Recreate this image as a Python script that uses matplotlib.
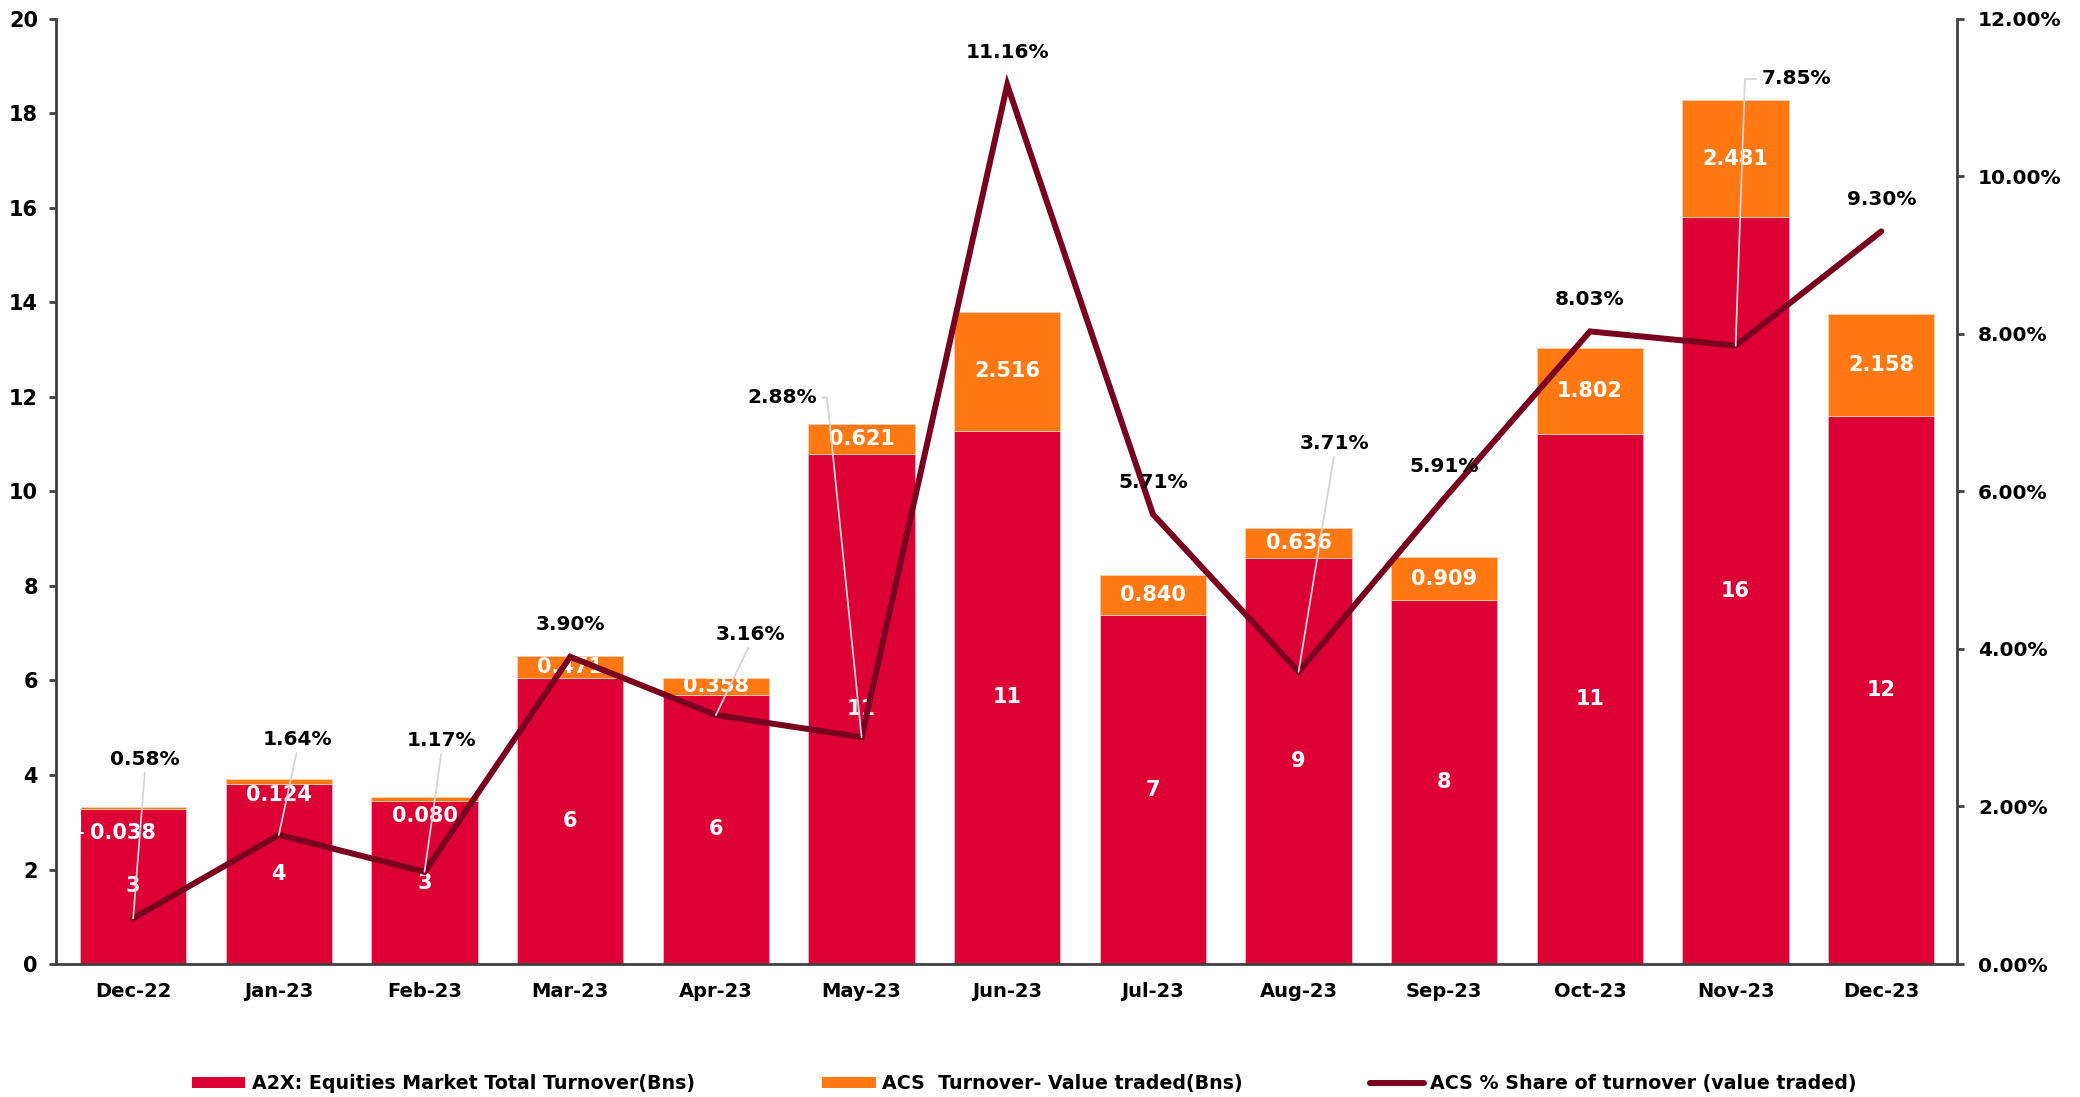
import matplotlib
matplotlib.use('Agg')
import matplotlib.pyplot as plt
from matplotlib.ticker import FuncFormatter, MultipleLocator
from matplotlib.lines import Line2D
from matplotlib.patches import Patch

# ---------------- data ----------------
months = ['Dec-22', 'Jan-23', 'Feb-23', 'Mar-23', 'Apr-23', 'May-23', 'Jun-23',
          'Jul-23', 'Aug-23', 'Sep-23', 'Oct-23', 'Nov-23', 'Dec-23']
a2x_turnover = [3.29, 3.80, 3.45, 6.05, 5.70, 10.80, 11.28, 7.38, 8.58, 7.70, 11.22, 15.80, 11.60]
acs_turnover = [0.038, 0.124, 0.080, 0.471, 0.358, 0.621, 2.516, 0.840, 0.636, 0.909, 1.802, 2.481, 2.158]
acs_share_pct = [0.58, 1.64, 1.17, 3.90, 3.16, 2.88, 11.16, 5.71, 3.71, 5.91, 8.03, 7.85, 9.30]

legend_labels = ['A2X: Equities Market Total Turnover(Bns)',
                 'ACS  Turnover- Value traded(Bns)',
                 'ACS % Share of turnover (value traded)']

# ---------------- layout / style ----------------
RED = '#DC0035'
ORANGE = '#FF7812'
MAROON = '#7A0020'
SPINE = '#404040'
LEADER = '#d4d4d4'

# percentage label offsets (points) and leader type
pct_offsets = [(8.6, 114.6), (13.4, 68.8), (12.4, 94.5), (0, 23), (24.8, 58.3),
               (-57.3, 244.5), (0, 23), (0, 23), (25.8, 164.3), (0, 23), (0, 23),
               (43.9, 192), (0, 23)]
pct_leader = ['straight', 'straight', 'straight', None, 'straight', 'hookR', None, None,
              'straight', None, None, 'hookL', None]
# orange label offsets (points) relative to segment middle
acs_offsets = [None, (0, -9.5), (0, -12.4), (0, 0), (0, 0), (0, 0), (0, 0),
               (0, 0), (0, 0), (0, 0), (0, 0), (0, 0), (0, 0)]

plt.rcParams['font.family'] = ['DejaVu Sans']

fig = plt.figure(figsize=(20.8, 10.97), dpi=100)
ax = fig.add_axes([0.0269, 0.1212, 0.9140, 0.8618])
ax2 = ax.twinx()

x = list(range(len(months)))
width = 0.73

ax.bar(x, a2x_turnover, width, color=RED, edgecolor='#f3b8c4', linewidth=0.6, zorder=2)
ax.bar(x, acs_turnover, width, bottom=a2x_turnover, color=ORANGE,
       edgecolor='#fdd0b0', linewidth=0.6, zorder=2)

ax.set_xlim(-0.53, 12.52)
ax.set_ylim(0, 20)
ax.yaxis.set_major_locator(MultipleLocator(2))
ax.set_xticks(x)
ax.set_xticklabels(months)

ax2.set_ylim(0, 12)
ax2.yaxis.set_major_locator(MultipleLocator(2))
ax2.yaxis.set_major_formatter(FuncFormatter(lambda v, p: f'{v:.2f}%'))

for a in (ax, ax2):
    a.spines['top'].set_visible(False)
    for s in ('left', 'right', 'bottom'):
        a.spines[s].set_color(SPINE)
        a.spines[s].set_linewidth(2.0)
ax.spines['right'].set_visible(False)
ax2.spines['left'].set_visible(False)
ax2.spines['bottom'].set_visible(False)

ax.tick_params(axis='y', direction='out', length=5, width=2, color=SPINE, pad=8,
               labelsize=15)
ax.tick_params(axis='x', length=0, pad=13, labelsize=14)
ax2.tick_params(axis='y', direction='out', length=5, width=2, color=SPINE, pad=10,
                labelsize=14.5)
for lab in ax.get_yticklabels() + ax.get_xticklabels() + ax2.get_yticklabels():
    lab.set_fontweight('bold')

# line
ax2.plot(x, acs_share_pct, color=MAROON, linewidth=4.3, solid_joinstyle='miter',
         solid_capstyle='round', zorder=3)

# bar labels (white)
for i in x:
    ax.text(i, a2x_turnover[i] / 2, f'{a2x_turnover[i]:.0f}', ha='center', va='center',
            color='white', fontsize=15, fontweight='bold', zorder=4)
    mid = a2x_turnover[i] + acs_turnover[i] / 2
    if acs_offsets[i] is None:
        ax.annotate(f'{acs_turnover[i]:.3f}',
                    xy=(i - width / 2, a2x_turnover[i] + acs_turnover[i]),
                    xytext=(30.6, -19.1), textcoords='offset points',
                    ha='center', va='center', color='white', fontsize=15,
                    fontweight='bold', zorder=4,
                    arrowprops=dict(arrowstyle='-', color='white', lw=1.5,
                                    shrinkA=3, shrinkB=0, relpos=(0, 0.5),
                                    connectionstyle='angle,angleA=0,angleB=90,rad=0'))
    else:
        ax.annotate(f'{acs_turnover[i]:.3f}', xy=(i, mid), xytext=acs_offsets[i],
                    textcoords='offset points', ha='center', va='center',
                    color='white', fontsize=15, fontweight='bold', zorder=4)

# percentage labels
for i in x:
    kind = pct_leader[i]
    arrow = None
    if kind == 'straight':
        arrow = dict(arrowstyle='-', color=LEADER, lw=1.3, shrinkA=1, shrinkB=0,
                     relpos=(0.5, 0))
    elif kind == 'hookR':
        arrow = dict(arrowstyle='-', color=LEADER, lw=1.3, shrinkA=2, shrinkB=0,
                     relpos=(1, 0.5),
                     connectionstyle='angle,angleA=0,angleB=95.8,rad=0')
    elif kind == 'hookL':
        arrow = dict(arrowstyle='-', color=LEADER, lw=1.3, shrinkA=2, shrinkB=0,
                     relpos=(0, 0.5),
                     connectionstyle='angle,angleA=0,angleB=88,rad=0')
    ax2.annotate(f'{acs_share_pct[i]:.2f}%', xy=(i, acs_share_pct[i]),
                 xytext=pct_offsets[i], textcoords='offset points',
                 ha='center', va='center', fontsize=14.5, fontweight='bold',
                 color='black', zorder=5, arrowprops=arrow)

# legend
handles = [Patch(facecolor=RED, edgecolor='none'),
           Patch(facecolor=ORANGE, edgecolor='none'),
           Line2D([0], [0], color=MAROON, linewidth=4.3, solid_capstyle='round')]
leg = fig.legend(handles, legend_labels, loc='center', bbox_to_anchor=(0.4925, 0.012),
                 ncol=3, frameon=False, prop=dict(size=13.7, weight='bold'),
                 handlelength=2.8, handleheight=0.55, handletextpad=0.35,
                 columnspacing=6.7)

fig.savefig('out.png', dpi=100)
